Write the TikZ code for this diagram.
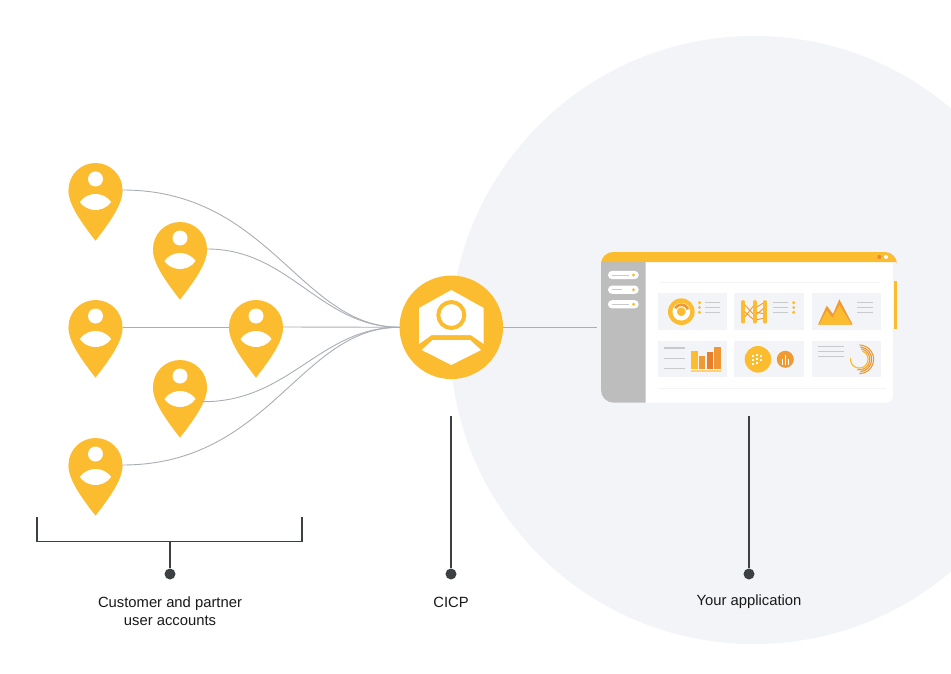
\documentclass[tikz,border=0pt]{standalone}
\usepackage{fontspec}
\setmainfont{Liberation Sans}
\definecolor{pinY}{HTML}{FCBC2F}
\definecolor{bgC}{HTML}{F3F4F8}
\definecolor{cardC}{HTML}{F3F4F7}
\definecolor{wireC}{HTML}{A9AEB6}
\definecolor{darkC}{HTML}{3C4043}
\definecolor{sideC}{HTML}{BDBDBD}
\definecolor{txtG}{HTML}{C8C9CB}
\definecolor{orA}{HTML}{F09A33}
\definecolor{orB}{HTML}{E67E2C}
\tikzset{
  x=1pt,y=-1pt,
  pinhead/.style={circle,fill=pinY,minimum size=54pt,inner sep=0pt,outer sep=0pt},
  hubnode/.style={circle,fill=pinY,minimum size=103.5pt,inner sep=0pt,outer sep=0pt},
  wire/.style={draw=wireC,line width=.9pt},
  leader/.style={draw=darkC,line width=1.8pt},
  leaderdot/.style={circle,fill=darkC,minimum size=11pt,inner sep=0pt},
  lab/.style={font=\fontsize{14.8}{18}\selectfont,text=black!90,align=center,inner sep=0pt},
  txtline/.style={draw=txtG,line width=1.2pt},
  card/.style={fill=cardC},
}
\newcommand{\pin}[3]{%
  \node[pinhead] (#1) at (#2,#3) {};
  \begin{scope}[shift={(#2,#3)}]
    \fill[pinY] (-27,0) .. controls (-27,12) and (-20,25) .. (0,50.7)
       .. controls (20,25) and (27,12) .. (27,0) -- cycle;
    \fill[white] (0,-11) circle[radius=7.5pt];
    \filldraw[white,line width=1pt,line join=round] (-15,12) arc[start angle=143.13,end angle=36.87,radius=18.75pt]
       arc[start angle=-36.87,end angle=-143.13,radius=18.75pt] -- cycle;
  \end{scope}}
\newcommand{\tl}[3]{\draw[txtline] (#1,#3) -- (#2,#3);}
\begin{document}
\begin{tikzpicture}
\useasboundingbox (0,0) rectangle (951,674);
\fill[white] (0,0) rectangle (951,674);
\begin{scope}
  \clip (0,0) rectangle (951,674);
  \fill[bgC] (754,340) circle[radius=304pt];
\end{scope}
% pins
\pin{p1}{95.5}{190}
\pin{p2}{180}{249}
\pin{p3}{95.5}{327}
\pin{p4}{256}{327}
\pin{p5}{180}{387}
\pin{p6}{95.5}{465}
% hub
\node[hubnode] (hub) at (451.3,327.3) {};
\fill[white] (419,308) -- (451.3,290) -- (483.7,308) -- (483.7,344) -- (470.7,335) -- (431.7,335) -- (419,344) -- cycle;
\fill[white] (421.7,350) -- (432.7,340) -- (470,340) -- (481,350) -- (451.3,365) -- cycle;
\draw[pinY,line width=4pt] (451.3,315) circle[radius=13pt];
% connectors
\draw[wire] (p1.east) .. controls (270,190) and (300,327) .. (hub.west);
\draw[wire] (p2.east) .. controls (290,249) and (320,327) .. (hub.west);
\draw[wire] (p3.east) -- (p4.west);
\draw[wire] (p4.east) -- (hub.west);
\draw[wire] (p5.-33) .. controls (290,402) and (320,327) .. (hub.west);
\draw[wire] (p6.east) .. controls (270,465) and (300,327) .. (hub.west);
\coordinate (appedge) at (597,327.3);
\draw[wire] (hub.east) -- (appedge);
% window
\fill[white] (645,262) rectangle (892.7,398) ;
\fill[white,rounded corners=5pt] (640,380) rectangle (892.7,402.7);
\fill[sideC] (645.7,261.5) -- (601,261.5) -- (601,390) arc[start angle=180,end angle=270,radius=12.7pt] -- (645.7,402.7) -- cycle;
\fill[pinY] (601,262) -- (601,264) arc[start angle=180,end angle=90,radius=12pt] -- (885,252) arc[start angle=90,end angle=0,radius=12pt] -- (897,262) -- cycle;
\fill[pinY] (894,280.7) rectangle (897,329.3);
\fill[orB!80!pinY] (879.3,257) circle[radius=2pt];
\fill[white] (886,257) circle[radius=2pt];
% sidebar pills
\foreach \yy/\ln in {275/629,289.7/622,304.3/629}{
  \fill[white,rounded corners=4.1pt] (608,\yy-4.15) rectangle (638.7,\yy+4.15);
  \draw[txtG,line width=1pt] (611.5,\yy) -- (\ln,\yy);
  \fill[pinY] (633.5,\yy) circle[radius=1.6pt];
}
% faint rules
\draw[bgC,line width=.8pt] (659,282.7) -- (880,282.7);
\draw[bgC,line width=.8pt] (659,388) -- (886,388);
% cards
\foreach \xa/\xb in {658/727.3,734.3/803.7,811.7/880.7}{
  \fill[card] (\xa,293.3) rectangle (\xb,330);
  \fill[card] (\xa,340.7) rectangle (\xb,377.3);
}
% card 1
\fill[pinY] (681.3,311.7) circle[radius=13.3pt];
\draw[white,line width=4.4pt] (681.3,311.7) circle[radius=6.6pt];
\draw[orA,line width=2.8pt] (681.3,311.7) ++(150:7pt) arc[start angle=150,end angle=20,radius=7pt];
\foreach \yy in {302.7,307.5,312.3}{
  \fill[pinY] (699.5,\yy) circle[radius=1.7pt];
  \tl{705}{720}{\yy}
  \tl{773}{788}{\yy}
  \fill[pinY] (793.7,\yy) circle[radius=1.7pt];
  \tl{857}{872.7}{\yy}
}
% card 2
\draw[orA,line width=.9pt] (744,304) -- (755,316) (744,318) -- (755,304) (744,311) -- (755,321) (755,308) -- (765,302) (755,316) -- (765,307) (755,320) -- (765,318) (755,312) -- (765,314);
\foreach \xx in {743.3,754.7,765}{
  \draw[pinY,line width=3.8pt,line cap=round] (\xx,302) -- (\xx,321.7);
}
% card 3
\fill[orA] (818,324.7) -- (826.7,305.7) -- (833,314) -- (839.3,299.3) -- (852.7,324.7) -- cycle;
\fill[pinY] (819,324.7) -- (826.7,310.5) -- (832.5,318) -- (839.3,305) -- (851.7,324.7) -- cycle;
% card 4
\tl{664}{685}{348}\tl{664}{685}{358.3}\tl{664}{685}{368.7}
\fill[pinY] (691,351.3) rectangle (698.3,369);
\fill[orA] (699,356) rectangle (705.3,369);
\fill[orB] (706.7,351.7) rectangle (713,369);
\fill[orA!90!orB] (714,347.3) rectangle (720.7,369);
\fill[pinY!65!white] (691,370.2) rectangle (720.7,372);
% card 5
\fill[pinY] (758,359.3) circle[radius=13.3pt];
\foreach \dx/\dy in {-5/-3,-1/-4.5,3/-3,-5/1,-1/0,3/1,-5/5,-1/4}{
  \fill[white] (758+\dx-1,359.3+\dy-1) rectangle (758+\dx+1,359.3+\dy+1);
}
\fill[orA] (785.3,359.3) circle[radius=8.5pt];
\fill[white] (781.5,358.5) rectangle (783.2,364.5);
\fill[white] (784.5,355) rectangle (786.2,364.5);
\fill[white] (787.5,358.5) rectangle (789.2,364.5);
% card 6
\tl{818}{844}{346.7}\tl{818}{844}{351.7}\tl{818}{844}{356.7}
\draw[orA,line width=1.1pt] (859.3,359.3) ++(90:14.3pt) arc[start angle=90,end angle=-90,radius=14.3pt];
\draw[orB!70!pinY,line width=1.1pt] (859.3,359.3) ++(85:12.4pt) arc[start angle=85,end angle=-85,radius=12.4pt];
\draw[orA,line width=1.1pt] (859.3,359.3) ++(80:10.6pt) arc[start angle=80,end angle=-100,radius=10.6pt];
\draw[pinY,line width=1.2pt] (859.3,359.3) ++(70:8.8pt) arc[start angle=70,end angle=-190,radius=8.8pt];
% leaders
\coordinate (bl) at (37,517);
\coordinate (br) at (302,517);
\coordinate (bm) at (170,541);
\coordinate (hubtail) at (451,416);
\coordinate (apptail) at (749,416);
\node[leaderdot] (d1) at (170,574) {};
\node[leaderdot] (d2) at (451,574) {};
\node[leaderdot] (d3) at (749,574) {};
\draw[leader] (bl) -- (37,541.5) -- (302,541.5) -- (br);
\draw[leader] (bm) -- (d1);
\draw[leader] (hubtail) -- (d2);
\draw[leader] (apptail) -- (d3);
% labels
\node[lab] (l1) at (170,611) {Customer and partner\\user accounts};
\node[lab] (l2) at (451,602) {CICP};
\node[lab] (l3) at (749,602) {Your application};
\end{tikzpicture}
\end{document}
